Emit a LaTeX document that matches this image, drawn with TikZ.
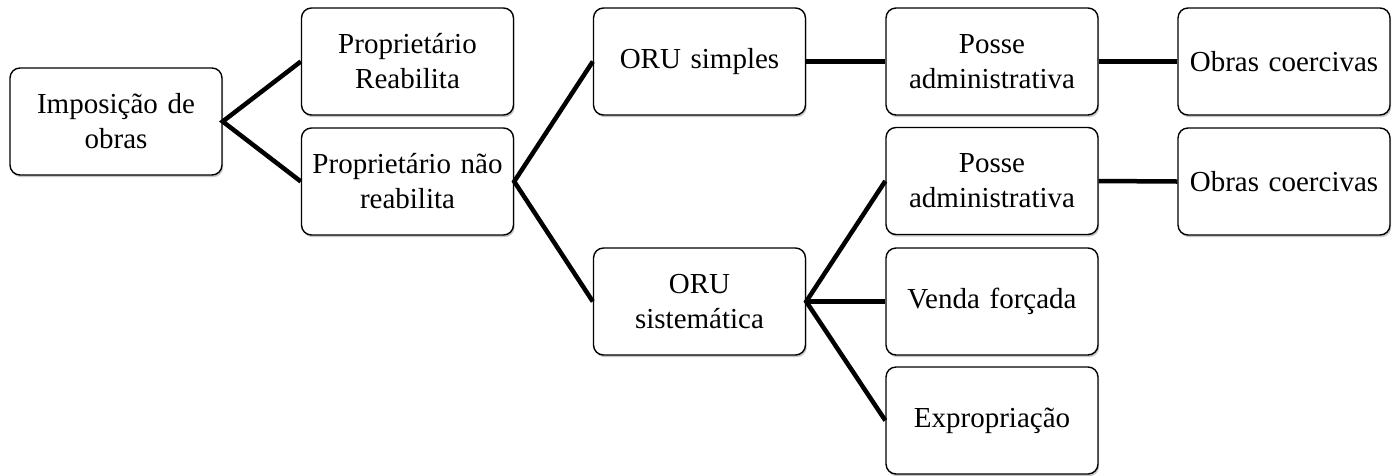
\documentclass[tikz,border=0pt]{standalone}
\usepackage{fontspec}
\setmainfont{Liberation Serif}
\usetikzlibrary{shadows}
\begin{document}
\begin{tikzpicture}[x=1pt,y=-1pt,
  box/.style={draw=black, line width=1.4pt, rounded corners=10pt, fill=white,
    minimum width=212pt, minimum height=107pt, inner sep=0pt, text width=205pt, align=center,
    font=\fontsize{29}{35}\selectfont,
    drop shadow={shadow xshift=1.2pt, shadow yshift=-2.2pt, fill=black, opacity=0.22}},
  link/.style={draw=black, line width=4.5pt}]
\useasboundingbox (0,0) rectangle (1399,475);
\node[box] (imp) at (116,121.5) {Imposição de\\obras};
\node[box] (pr) at (407.5,61.5) {Proprietário\\Reabilita};
\node[box] (pnr) at (407.5,181.5) {Proprietário não\\reabilita};
\node[box] (orus) at (699.5,61.5) {ORU simples};
\node[box] (oruss) at (699.5,301.5) {ORU\\sistemática};
\node[box] (pa1) at (992,61.5) {Posse\\administrativa};
\node[box] (oc1) at (1284,61.5) {Obras coercivas};
\node[box] (pa2) at (992,181) {Posse\\administrativa};
\node[box] (oc2) at (1284,181.5) {Obras coercivas};
\node[box] (vf) at (992,301.5) {Venda forçada};
\node[box] (ex) at (992,420.5) {Expropriação};
\draw[link] (pr.west) -- (imp.east) -- (pnr.west);
\draw[link] (orus.west) -- (pnr.east) -- (oruss.west);
\draw[link] (orus.east) -- (pa1.west);
\draw[link] (pa1.east) -- (oc1.west);
\draw[link] (pa2.east) -- (oc2.west);
\draw[link] (pa2.west) -- (oruss.east) -- (ex.west);
\draw[link] (oruss.east) -- (vf.west);
\end{tikzpicture}
\end{document}
